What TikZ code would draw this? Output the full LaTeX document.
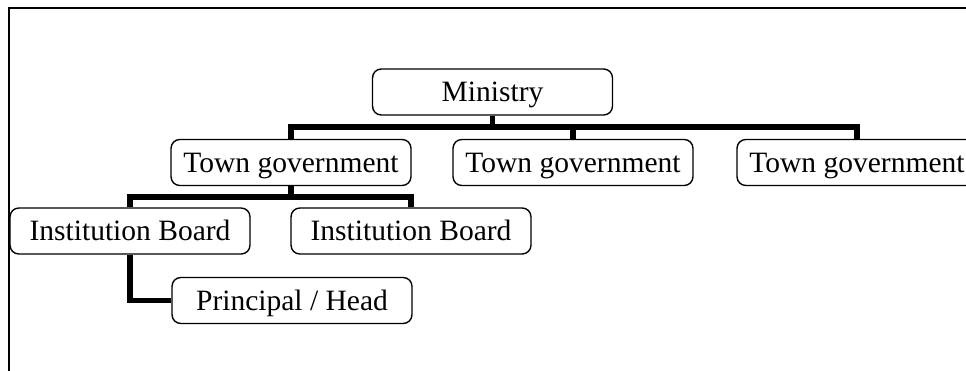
\documentclass[tikz,border=0pt]{standalone}
\usepackage{fontspec}
\setmainfont{Liberation Serif}
\usepackage{tikz}
\usetikzlibrary{positioning,calc}

\begin{document}
\begin{tikzpicture}[x=0.02cm, y=-0.02cm,
    unit/.style={draw, rounded corners=5pt, line width=0.8pt, minimum width=4.8cm,
      minimum height=0.92cm, inner sep=0pt, text height=11pt, text depth=0pt,
      font=\fontsize{16.8}{19}\selectfont},
    link/.style={line width=3pt}]
        \useasboundingbox (0,0) rectangle (966,371);

        % Draw the frame
        \draw[line width=1.1pt] (9,371) -- (9,8) -- (966,8);

        % Draw the units
        \node[unit] (min) at (492.5,92) {Ministry};
        \node[unit] (tg1) at (291,162.5) {Town government};
        \node[unit] (tg2) at (573,162.5) {Town government};
        \node[unit] (tg3) at (857,162.5) {Town government};
        \node[unit] (ib1) at (130,231) {Institution Board};
        \node[unit] (ib2) at (411,231) {Institution Board};
        \node[unit] (ph) at (292,300.5) {Principal / Head};

        % Draw links
        \coordinate (bar1) at (492.5,127);
        \coordinate (bar2) at (291,197);
        \draw[link] (min.south) -- (bar1);
        \draw[link] (tg1.north) |- (bar1) -| (tg3.north);
        \draw[link] (bar1) -| (tg2.north);
        \draw[link] (tg1.south) -- (bar2);
        \draw[link] (ib1.north) |- (bar2) -| (ib2.north);
        \draw[link] (ib1.south) |- (ph.west);
      \end{tikzpicture}
\end{document}
